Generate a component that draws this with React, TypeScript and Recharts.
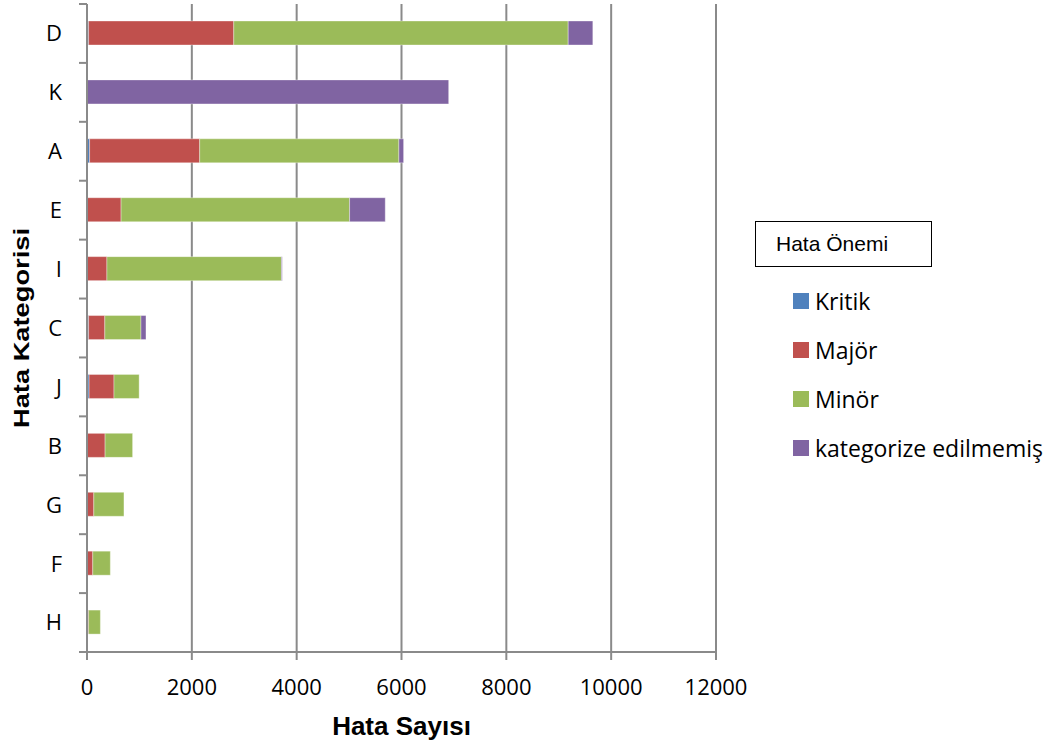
import React from 'react';
import { BarChart, Bar, XAxis, YAxis, CartesianGrid, Legend, Label } from 'recharts';

const categories = ['D', 'K', 'A', 'E', 'I', 'C', 'J', 'B', 'G', 'F', 'H'];
const kritik = [30, 0, 50, 5, 0, 30, 40, 10, 0, 0, 0];
const major = [2770, 0, 2100, 645, 380, 310, 475, 335, 130, 110, 30];
const minor = [6380, 0, 3800, 4360, 3330, 690, 480, 525, 575, 335, 225];
const uncat = [470, 6900, 90, 680, 15, 95, 0, 0, 0, 0, 0];
const xTicks = [0, 2000, 4000, 6000, 8000, 10000, 12000];

const seriesNames = ['Kritik', 'Majör', 'Minör', 'kategorize edilmemiş'];
const seriesColors = ['#4F81BD', '#C0504D', '#9BBB59', '#8064A2'];

const data = categories.map((c, i) => ({
  cat: c,
  kritik: kritik[i],
  major: major[i],
  minor: minor[i],
  uncat: uncat[i],
}));

const W = 1053;
const H = 746;
const PLOT_TOP = 4;
const PLOT_BOTTOM = 652;
const PLOT_LEFT = 87;
const PLOT_RIGHT = 716;
const BAND = (PLOT_BOTTOM - PLOT_TOP) / categories.length;
const GRID = '#8a8a8a';
const TICK_FONT = "'Open Sans', sans-serif";

const YTick = (props: any) => {
  const { y, payload, index } = props;
  const axisX = PLOT_LEFT;
  return (
    <g>
      <line x1={axisX - 8} x2={axisX} y1={y - BAND / 2} y2={y - BAND / 2} stroke={GRID} strokeWidth={2} />
      {index === categories.length - 1 && (
        <line x1={axisX - 8} x2={axisX} y1={y + BAND / 2} y2={y + BAND / 2} stroke={GRID} strokeWidth={2} />
      )}
      <text x={62} y={y} dy="0.36em" textAnchor="end" fontFamily={TICK_FONT} fontSize={22} fill="#000">
        {payload.value}
      </text>
    </g>
  );
};

const LegendContent = (props: any) => {
  const { payload } = props;
  return (
    <div style={{ position: 'relative', width: 300, height: 260 }}>
      <div
        style={{
          position: 'absolute',
          left: 0,
          top: 0,
          width: 177,
          height: 46,
          border: '1.5px solid #000',
          boxSizing: 'border-box',
          fontFamily: "'Liberation Sans', Arial, sans-serif",
          fontSize: 21,
          lineHeight: '43px',
          paddingLeft: 20,
          color: '#000',
        }}
      >
        Hata Önemi
      </div>
      {(payload || []).map((p: any, i: number) => (
        <div
          key={i}
          style={{
            position: 'absolute',
            left: 38,
            top: 80 + i * 49 - 15,
            height: 30,
            display: 'flex',
            alignItems: 'center',
            fontFamily: TICK_FONT,
            fontSize: 23,
            color: '#000',
            whiteSpace: 'nowrap',
          }}
        >
          <span style={{ display: 'inline-block', width: 16, height: 16, background: p.color, marginRight: 6 }} />
          <span>{p.value}</span>
        </div>
      ))}
    </div>
  );
};

export default function App() {
  return (
    <div style={{ position: 'absolute', left: 0, top: 0, width: W, height: H, background: '#fff' }}>
      <BarChart
        width={W}
        height={H}
        data={data}
        layout="vertical"
        margin={{ top: PLOT_TOP, right: W - PLOT_RIGHT, bottom: H - PLOT_BOTTOM - 90, left: PLOT_LEFT - 60 }}
        barSize={24}
      >
        <CartesianGrid horizontal={false} vertical={true} stroke={GRID} strokeWidth={2} />
        <XAxis
          type="number"
          domain={[0, 12000]}
          ticks={xTicks}
          tickSize={8}
          tickMargin={19}
          height={90}
          axisLine={{ stroke: GRID, strokeWidth: 2 }}
          tickLine={{ stroke: GRID, strokeWidth: 2 }}
          tick={{ fontFamily: TICK_FONT, fontSize: 22, fill: '#000' }}
          interval={0}
        >
          <Label
            content={(p: any) => {
              const vb = p.viewBox || {};
              return (
                <text
                  x={vb.x + vb.width / 2}
                  y={735}
                  textAnchor="middle"
                  fontFamily="'Liberation Sans', Arial, sans-serif"
                  fontWeight="bold"
                  fontSize={26}
                  fill="#000"
                >
                  Hata Sayısı
                </text>
              );
            }}
          />
        </XAxis>
        <YAxis
          type="category"
          dataKey="cat"
          width={60}
          tickLine={false}
          axisLine={{ stroke: GRID, strokeWidth: 2 }}
          tick={<YTick />}
          interval={0}
        >
          <Label
            content={(p: any) => {
              const vb = p.viewBox || {};
              const cy = vb.y + vb.height / 2;
              return (
                <text
                  x={29}
                  y={cy}
                  transform={`rotate(-90, 29, ${cy})`}
                  textAnchor="middle"
                  fontFamily="'Liberation Sans', Arial, sans-serif"
                  fontWeight="bold"
                  fontSize={22}
                  textLength={200}
                  lengthAdjust="spacingAndGlyphs"
                  fill="#000"
                >
                  Hata Kategorisi
                </text>
              );
            }}
          />
        </YAxis>
        <Legend
          layout="horizontal"
          verticalAlign="middle"
          align="center"
          wrapperStyle={{ left: 755, top: 221, width: 300, height: 260 }}
          content={<LegendContent />}
        />
        <Bar dataKey="kritik" name={seriesNames[0]} stackId="a" fill={seriesColors[0]} stroke="#ffffff" strokeOpacity={0.35} isAnimationActive={false} />
        <Bar dataKey="major" name={seriesNames[1]} stackId="a" fill={seriesColors[1]} stroke="#ffffff" strokeOpacity={0.35} isAnimationActive={false} />
        <Bar dataKey="minor" name={seriesNames[2]} stackId="a" fill={seriesColors[2]} stroke="#ffffff" strokeOpacity={0.35} isAnimationActive={false} />
        <Bar dataKey="uncat" name={seriesNames[3]} stackId="a" fill={seriesColors[3]} stroke="#ffffff" strokeOpacity={0.35} isAnimationActive={false} />
      </BarChart>
    </div>
  );
}
